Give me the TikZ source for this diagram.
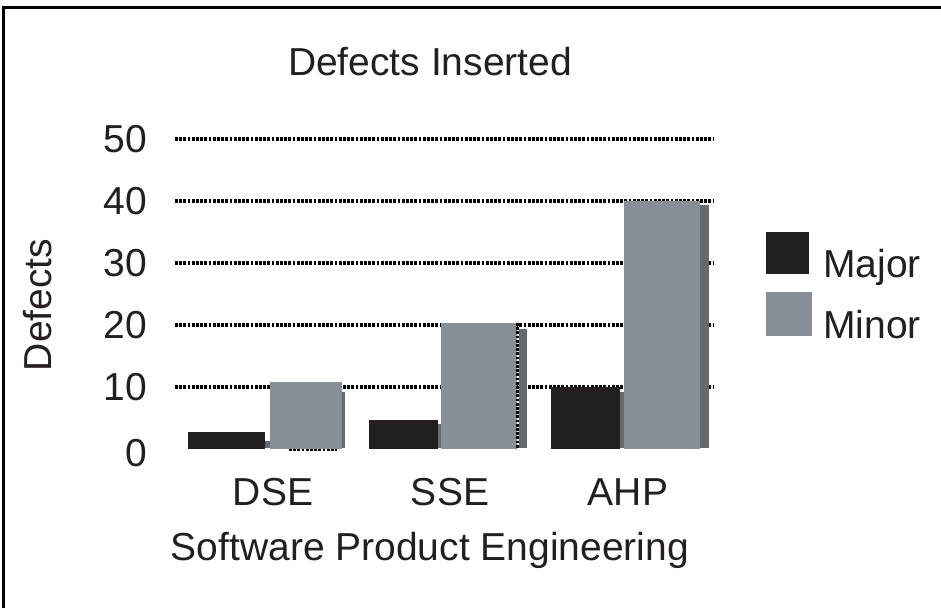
\documentclass[tikz,border=0pt]{standalone}
\usepackage{fontspec}
\setmainfont{Liberation Sans}
\definecolor{ink}{RGB}{35,31,32}
\definecolor{minorgray}{RGB}{135,142,149}
\definecolor{shadegray}{RGB}{100,106,109}
\begin{document}
\begin{tikzpicture}[x=1pt,y=-1pt,
  lbl/.style={font=\fontsize{39}{46}\selectfont, text=ink, inner sep=0pt},
  gridline/.style={line width=3.4pt, dash pattern=on 2.8pt off 1.4pt, black},
  majorbar/.style={fill=ink},
  minorbar/.style={fill=minorgray},
  shade/.style={fill=shadegray},
  frameline/.style={line width=3pt, black}]
\useasboundingbox (0,0) rectangle (941,608);
% frame (top and left edges only)
\draw[frameline] (3,608) -- (3,7.5) -- (941,7.5);

% title
\node[lbl, anchor=base] (title) at (430,75) {Defects Inserted};

% horizontal grid lines at 10..50
\foreach \y in {139,201,263,325,387}
  \draw[gridline] (175,\y) -- (713,\y);
\draw[gridline] (289,449) -- (337,449);

% y tick labels
\node[lbl, anchor=east] (t50) at (147,139) {50};
\node[lbl, anchor=east] (t40) at (147,201) {40};
\node[lbl, anchor=east] (t30) at (147,263) {30};
\node[lbl, anchor=east] (t20) at (147,325) {20};
\node[lbl, anchor=east] (t10) at (147,387) {10};
\node[lbl, anchor=east] (t0)  at (147,453) {0};

% y axis title
\node[lbl, rotate=90] (ytitle) at (38,305) {Defects};

% DSE
\fill[shade] (265,441) rectangle (271,448);
\fill[majorbar] (188,432) rectangle (265,449);
\fill[shade] (342,392) rectangle (345,448);
\fill[minorbar] (270,382) rectangle (342,449);

% SSE
\fill[shade] (438,424) rectangle (442,448);
\fill[majorbar] (369,420) rectangle (438,449);
\fill[shade] (519,329) rectangle (527,448);
\fill[minorbar] (441,323) rectangle (517,449);
\draw[gridline] (517.5,323) -- (517.5,449);

% AHP
\fill[shade] (620,392) rectangle (625,448);
\fill[majorbar] (551,387) rectangle (620,449);
\fill[shade] (700,205) rectangle (709,448);
\fill[minorbar] (624,201) rectangle (700,449);

% category labels
\node[lbl, anchor=base] (dse) at (273,505) {DSE};
\node[lbl, anchor=base] (sse) at (450,505) {SSE};
\node[lbl, anchor=base] (ahp) at (628,505) {AHP};
\node[lbl, anchor=base] (xtitle) at (430,560) {Software Product Engineering};

% legend
\fill[majorbar] (766,232) rectangle (809,274);
\fill[minorbar] (766,292) rectangle (812,336);
\node[lbl, anchor=base west] (lmajor) at (823,277) {Major};
\node[lbl, anchor=base west] (lminor) at (823,338) {Minor};
\end{tikzpicture}
\end{document}
